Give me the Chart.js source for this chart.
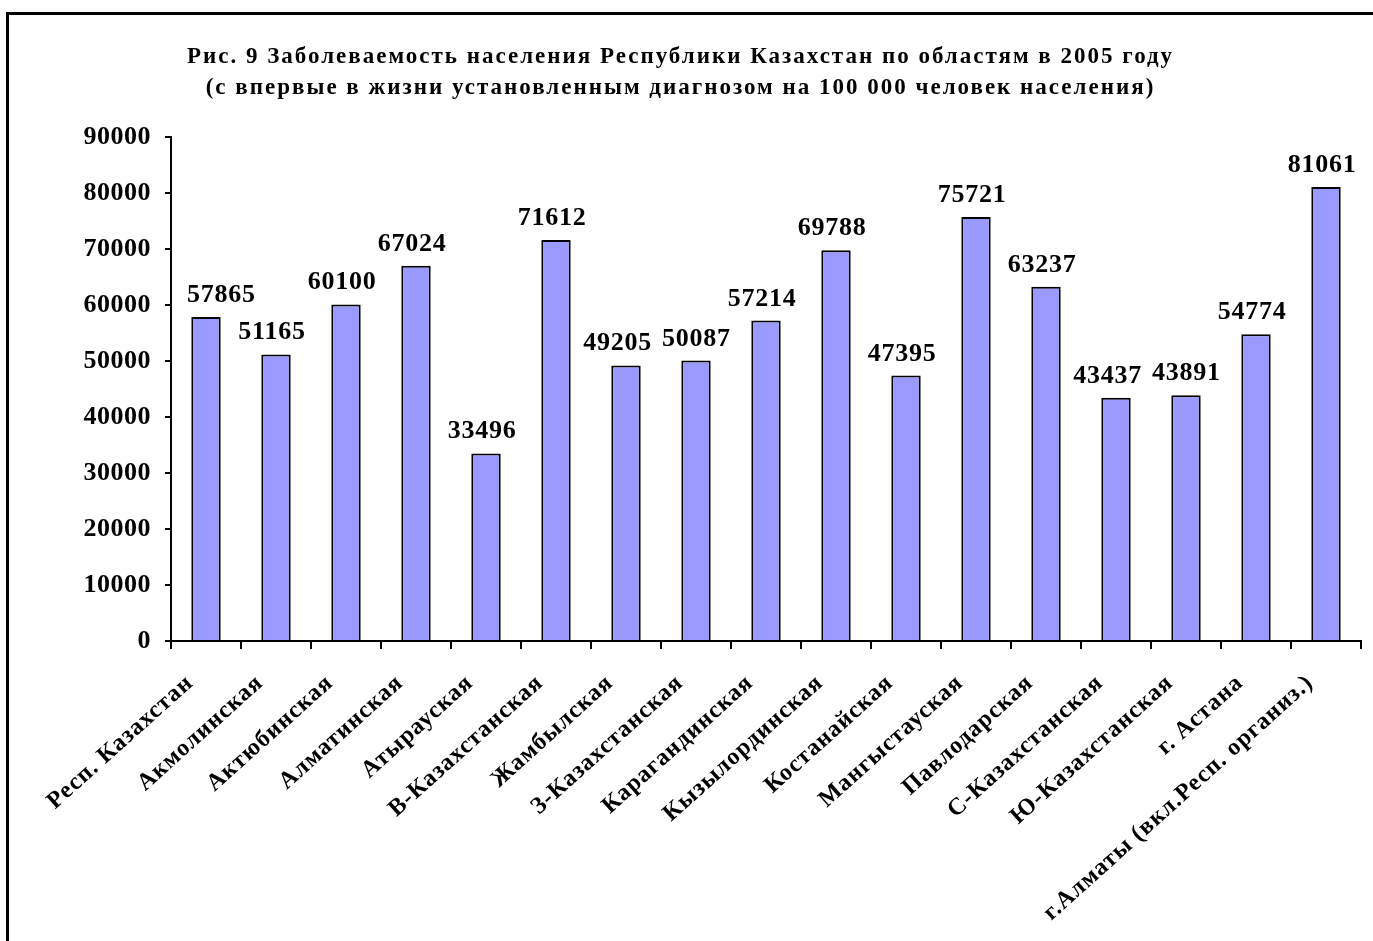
<!DOCTYPE html>
<html><head><meta charset="utf-8">
<script src="https://cdn.jsdelivr.net/npm/chart.js@4.4.1/dist/chart.umd.min.js"></script>
<style>html,body{margin:0;padding:0;background:#fff;overflow:hidden}#wrap{position:relative;width:1373px;height:941px}canvas{display:block}</style>
</head><body><div id="wrap"><canvas id="c" width="1373" height="941"></canvas></div>
<script>
const titleLines = [
  'Рис. 9 Заболеваемость населения Республики Казахстан по областям в 2005 году',
  '(с впервые в жизни установленным диагнозом на 100 000 человек населения)'
];
const categories = [
  'Респ. Казахстан', 'Акмолинская', 'Актюбинская', 'Алматинская', 'Атырауская',
  'В-Казахстанская', 'Жамбылская', 'З-Казахстанская', 'Карагандинская', 'Кызылординская',
  'Костанайская', 'Мангыстауская', 'Павлодарская', 'С-Казахстанская', 'Ю-Казахстанская',
  'г. Астана', 'г.Алматы (вкл.Респ. организ.)'
];
const values = [57865, 51165, 60100, 67024, 33496, 71612, 49205, 50087, 57214, 69788,
                47395, 75721, 63237, 43437, 43891, 54774, 81061];
const yTickMin = 0, yTickMax = 90000, yTickStep = 10000;

const SERIF = "'Liberation Serif','Times New Roman',serif";

const spacingPlugin = {
  id: 'spacing',
  beforeDraw(chart) {
    const patch = (obj, method, sp) => {
      if (!obj || obj['__p_' + method]) return;
      const orig = obj[method];
      obj[method] = function (...a) {
        const ctx = chart.ctx;
        const prev = ctx.letterSpacing;
        ctx.letterSpacing = sp;
        const r = orig.apply(this, a);
        ctx.letterSpacing = prev;
        return r;
      };
      obj['__p_' + method] = true;
    };
    patch(chart.titleBlock, 'draw', '2px');
    patch(chart.scales.x, 'drawLabels', '1px');
    patch(chart.scales.y, 'drawLabels', '0.5px');
  }
};

const frameAndLabels = {
  id: 'frameAndLabels',
  afterDatasetsDraw(chart) {
    const ctx = chart.ctx;
    const meta = chart.getDatasetMeta(0);
    ctx.save();
    ctx.font = 'bold 26px ' + SERIF;
    ctx.letterSpacing = '0.75px';
    ctx.fillStyle = '#000';
    ctx.textAlign = 'left';
    ctx.textBaseline = 'alphabetic';
    const items = meta.data.map((bar, i) => {
      const txt = String(values[i]);
      const w = ctx.measureText(txt).width;
      let left = bar.x - 4 - w / 2;
      left = Math.max(left, chart.chartArea.left + 16);
      return { txt, w, left, y: bar.y - 15 };
    });
    // keep neighbouring labels apart when they sit at nearly the same height
    const minGap = 10;
    for (let i = 1; i < items.length; i++) {
      const a = items[i - 1], b = items[i];
      if (Math.abs(a.y - b.y) < 22) {
        const gap = b.left - (a.left + a.w);
        if (gap < minGap) {
          const d = (minGap - gap) / 2;
          a.left -= d;
          b.left += d;
        }
      }
    }
    items.forEach(it => ctx.fillText(it.txt, it.left, it.y));
    ctx.restore();
  },
  afterDraw(chart) {
    const ctx = chart.ctx;
    ctx.save();
    ctx.fillStyle = '#000';
    ctx.fillRect(6, 12, 3, chart.height - 12);
    ctx.fillRect(6, 12, chart.width - 6, 3);
    ctx.restore();
  }
};

new Chart(document.getElementById('c'), {
  type: 'bar',
  data: {
    labels: categories,
    datasets: [{
      data: values,
      backgroundColor: '#9999FF',
      borderColor: '#000',
      borderWidth: 2,
      borderSkipped: 'start',
      categoryPercentage: 1,
      barPercentage: 0.42
    }]
  },
  options: {
    responsive: false,
    animation: false,
    devicePixelRatio: 1,
    layout: { padding: { left: 0, right: 12, top: 0, bottom: 0 } },
    plugins: {
      legend: { display: false },
      tooltip: { enabled: false },
      title: {
        display: true,
        text: titleLines,
        color: '#000',
        font: { family: SERIF, size: 23, weight: 'bold', lineHeight: 31 / 23 },
        padding: { top: 42, bottom: 33 }
      }
    },
    scales: {
      y: {
        min: yTickMin,
        max: yTickMax,
        ticks: {
          stepSize: yTickStep,
          color: '#000',
          padding: 14,
          font: { family: SERIF, size: 26, weight: 'bold' },
          callback: (v) => String(v)
        },
        grid: { display: true, drawOnChartArea: false, drawTicks: true, tickLength: 6, color: '#000', lineWidth: 2 },
        border: { display: true, color: '#000', width: 2 },
        afterFit(scale) { scale.width = 171; }
      },
      x: {
        ticks: {
          color: '#000',
          minRotation: 42,
          maxRotation: 42,
          autoSkip: false,
          padding: 20,
          labelOffset: -16,
          font: { family: SERIF, size: 24, weight: 'bold' }
        },
        grid: { display: true, offset: true, drawOnChartArea: false, drawTicks: true, tickLength: 8, color: '#000', lineWidth: 2 },
        border: { display: true, color: '#000', width: 2 },
        afterFit(scale) { scale.height = 300; }
      }
    }
  },
  plugins: [spacingPlugin, frameAndLabels]
});
</script>
</body></html>
